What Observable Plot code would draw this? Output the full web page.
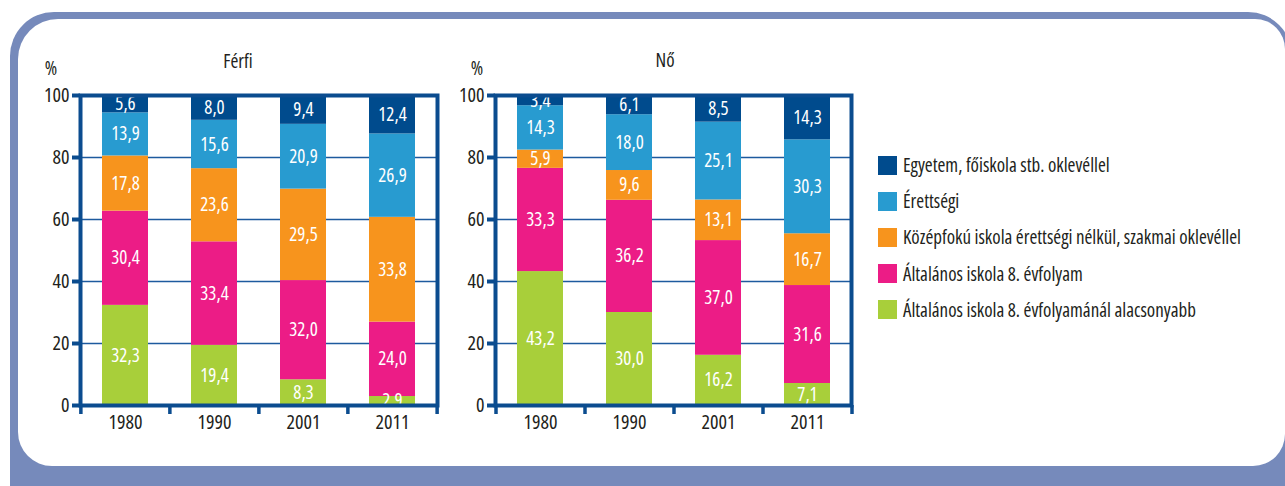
<!DOCTYPE html>
<html>
<head>
<meta charset="utf-8">
<script src="https://cdn.jsdelivr.net/npm/d3@7"></script>
<script src="https://cdn.jsdelivr.net/npm/@observablehq/plot@0.6"></script>
<style>
  html, body { margin: 0; padding: 0; background: #fff; }
  body { width: 1285px; height: 486px; position: relative; overflow: hidden;
         font-family: "Open Sans", sans-serif; font-stretch: 75%; color: #231f20; }
  #outer { position: absolute; left: 10px; top: 12px; width: 1282px; height: 520px; background: #768abb; border-radius: 44px; }
  #inner { position: absolute; left: 18px; top: 19px; width: 1267px; height: 447px; background: #fff; border-radius: 40px 30px 32px 34px; }
  .plot { position: absolute; top: 0; }
  .plot svg text { font-stretch: 75%; }
  .title { position: absolute; font-size: 19px; transform: translate(-50%, -50%); white-space: nowrap; }
  #legend { position: absolute; left: 878px; top: 147px; }
  .item { display: flex; align-items: center; height: 36.2px; font-size: 19px; white-space: nowrap; }
  .sw { width: 19px; height: 19px; margin-right: 6px; flex: none; }
</style>
</head>
<body>
<div id="outer"></div>
<div id="inner"></div>
<div id="left" class="plot" style="left:0px"></div>
<div id="right" class="plot" style="left:415px"></div>
<div class="title" style="left:238px; top:61px">Férfi</div>
<div class="title" style="left:665px; top:60px">Nő</div>
<div class="title" style="left:51px; top:68px">%</div>
<div class="title" style="left:477px; top:68px">%</div>
<div id="legend"></div>
<script>
// Data (bottom of stack to top)
const years = ["1980", "1990", "2001", "2011"];
const categories = [
  "Általános iskola 8. évfolyamánál alacsonyabb",
  "Általános iskola 8. évfolyam",
  "Középfokú iskola érettségi nélkül, szakmai oklevéllel",
  "Érettségi",
  "Egyetem, főiskola stb. oklevéllel"
];
const colors = ["#a8cf3a", "#ec1c86", "#f7941d", "#289bd0", "#004b8d"];
const ferfiValues = [
  [32.3, 19.4, 8.3, 2.9],
  [30.4, 33.4, 32.0, 24.0],
  [17.8, 23.6, 29.5, 33.8],
  [13.9, 15.6, 20.9, 26.9],
  [5.6, 8.0, 9.4, 12.4]
];
const noValues = [
  [43.2, 30.0, 16.2, 7.1],
  [33.3, 36.2, 37.0, 31.6],
  [5.9, 9.6, 13.1, 16.7],
  [14.3, 18.0, 25.1, 30.3],
  [3.4, 6.1, 8.5, 14.3]
];
const yTicks = [0, 20, 40, 60, 80, 100];
const gridTicks = [20, 40, 60, 80];

const axisColor = "#0b4c8f";
const fontFamily = "'Open Sans', sans-serif";

function toRows(values) {
  const rows = [];
  years.forEach((year, j) => {
    categories.forEach((cat, i) => rows.push({year, cat, value: values[i][j]}));
  });
  return rows;
}
const fmt = v => v.toFixed(1).replace(".", ",");

function chart(values, width) {
  const data = toRows(values);
  const marginLeft = 80, marginRight = 8;
  const step = (width - marginLeft - marginRight) / years.length;
  return Plot.plot({
    width, height: 440,
    marginLeft, marginRight, marginTop: 95, marginBottom: 35,
    style: {fontFamily, color: "#231f20", background: "transparent", overflow: "visible"},
    x: {domain: years, paddingInner: 0.485, paddingOuter: 0.2425, axis: null, label: null},
    y: {domain: [0, 100], axis: null, label: null},
    color: {domain: categories, range: colors},
    marks: [
      Plot.gridY(gridTicks, {stroke: "#1d5a9e", strokeOpacity: 1, strokeWidth: 1.3}),
      Plot.barY(data, {x: "year", y: "value", fill: "cat", order: categories}),
      Plot.text(data, Plot.stackY({x: "year", y: "value", z: "cat", order: categories,
        text: d => fmt(d.value), fill: "white", fontSize: 19})),
      Plot.frame({stroke: axisColor, strokeWidth: 4}),
      Plot.axisY(yTicks, {tickSize: 8, stroke: axisColor, strokeWidth: 4, fill: "#231f20",
        tickPadding: 3, fontSize: 20, label: null}),
      Plot.axisX({tickSize: 0, tickPadding: 9, fill: "#231f20", fontSize: 20, label: null}),
      Plot.ruleX(years, {x: d => d, y1: 0, y2: 0, dx: -step / 2, insetBottom: -9,
        stroke: axisColor, strokeWidth: 3.5}),
      Plot.ruleX(years.slice(-1), {x: d => d, y1: 0, y2: 0, dx: step / 2, insetBottom: -9,
        stroke: axisColor, strokeWidth: 3.5})
    ]
  });
}

document.getElementById("left").appendChild(chart(ferfiValues, 445));
document.getElementById("right").appendChild(chart(noValues, 444));

const legend = document.getElementById("legend");
categories.slice().reverse().forEach((cat, k) => {
  const color = colors[categories.length - 1 - k];
  const item = document.createElement("div");
  item.className = "item";
  item.innerHTML = `<div class="sw" style="background:${color}"></div><span>${cat}</span>`;
  legend.appendChild(item);
});
</script>
</body>
</html>
